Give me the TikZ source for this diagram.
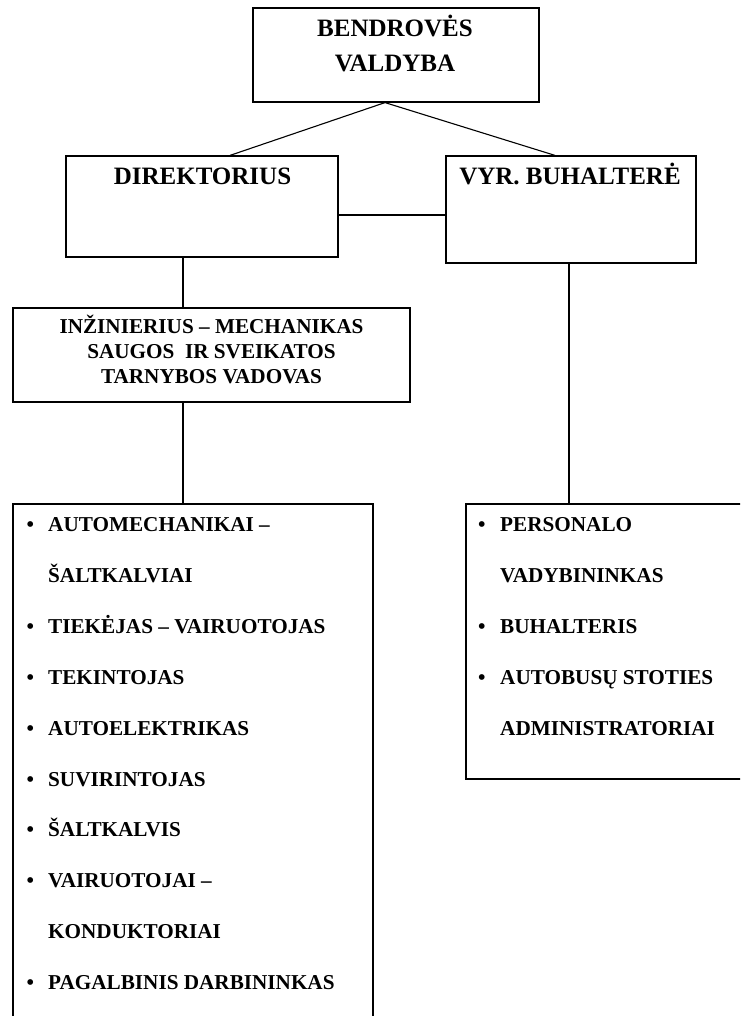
\documentclass[tikz,border=0pt]{standalone}
\usepackage{fontspec}
\setmainfont{Liberation Serif}[BoldFont={Liberation Serif Bold}]
\usetikzlibrary{calc}
\tikzstyle{box} = [draw, line width=1.2pt, inner sep=0pt]
\tikzstyle{link} = [line width=1.1pt]
\tikzstyle{head} = [anchor=base, inner sep=0pt,
	font=\bfseries\fontsize{25}{30}\selectfont]
\tikzstyle{item} = [anchor=base west, inner sep=0pt,
	font=\bfseries\fontsize{21.2}{24}\selectfont]
\tikzstyle{centred} = [item, anchor=base]

\begin{document}
\begin{tikzpicture}[x=1pt, y=-1pt]
			\useasboundingbox (0,0) rectangle (740,1016);
			\clip (0,0) rectangle (740,1016);
			
			\node (valdyba) [box, minimum width=286pt, minimum height=94pt] at (396,55) {};
			\node [head] at (395,37) {BENDROVĖS};
			\node [head] at (395,72) {VALDYBA};
			
			\node (dir) [box, minimum width=272pt, minimum height=101pt] at (202,206.5) {};
			\node [head] at (202.5,185) {DIREKTORIUS};
			\node (buh) [box, minimum width=250pt, minimum height=107pt] at (571,209.5) {};
			\node [head] at (570,185) {VYR. BUHALTERĖ};
			
			\draw [link] ([xshift=-11pt]valdyba.south) -- ([xshift=28pt]dir.north);
			\draw [link] ([xshift=-11pt]valdyba.south) -- ([xshift=-16pt]buh.north);
			\draw [link] ([yshift=-8.5pt]dir.east) -- ([yshift=-8.5pt]dir.east -| buh.west);
			
			\node (inz) [box, minimum width=397pt, minimum height=94pt] at (211.5,355) {};
			\foreach \t [count=\i from 0] in {INŽINIERIUS – MECHANIKAS, SAUGOS\ \ IR SVEIKATOS, TARNYBOS VADOVAS}
				\node [centred] at (211.5,333+25*\i) {\t};
			\draw [link] ([xshift=-19pt]dir.south) -- ([xshift=-19pt]dir.south |- inz.north);
			
			\node (darb) [box, minimum width=360pt, minimum height=540pt] at (193,774) {};
			\node (admin) [box, minimum width=294pt, minimum height=275pt] at (613,641.5) {};
			\draw [link] ([xshift=-28.5pt]inz.south) -- ([xshift=-28.5pt]inz.south |- darb.north);
			\draw [link] ([xshift=-2pt]buh.south) -- ([xshift=-2pt]buh.south |- admin.north);
			
			\foreach \b/\t [count=\i from 0] in {1/AUTOMECHANIKAI –, 0/ŠALTKALVIAI, 1/TIEKĖJAS – VAIRUOTOJAS,
				1/TEKINTOJAS, 1/AUTOELEKTRIKAS, 1/SUVIRINTOJAS, 1/ŠALTKALVIS, 1/VAIRUOTOJAI –,
				0/KONDUKTORIAI, 1/PAGALBINIS DARBININKAS}{
				\node (d\i) [item] at (48,531.5+50.9*\i) {\t};
				\ifnum\b=1 \node [item] at (26.5,531.5+50.9*\i) {\textbullet}; \fi
			}
			
			\foreach \b/\t [count=\i from 0] in {1/PERSONALO, 0/VADYBININKAS, 1/BUHALTERIS,
				1/AUTOBUSŲ STOTIES, 0/ADMINISTRATORIAI}{
				\node (a\i) [item] at (500,531.5+50.9*\i) {\t};
				\ifnum\b=1 \node [item] at (478,531.5+50.9*\i) {\textbullet}; \fi
			}
			
		\end{tikzpicture}
\end{document}
